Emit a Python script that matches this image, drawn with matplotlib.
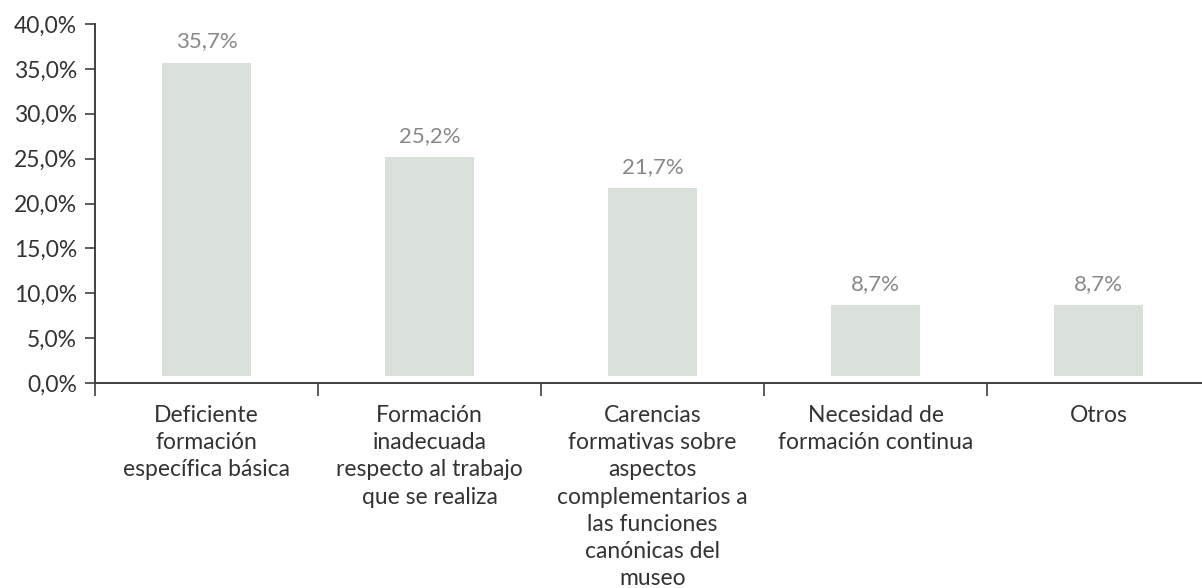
import matplotlib
matplotlib.use("Agg")
import matplotlib.pyplot as plt
from matplotlib.ticker import FixedLocator, FuncFormatter

plt.rcParams["font.family"] = ["Lato", "DejaVu Sans"]

categories = [
    "Deficiente\nformación\nespecífica básica",
    "Formación\ninadecuada\nrespecto al trabajo\nque se realiza",
    "Carencias\nformativas sobre\naspectos\ncomplementarios a\nlas funciones\ncanónicas del\nmuseo",
    "Necesidad de\nformación continua",
    "Otros",
]
values = [35.7, 25.2, 21.7, 8.7, 8.7]
y_ticks = [0, 5, 10, 15, 20, 25, 30, 35, 40]

bar_color = "#d9e0d9"
axis_color = "#404040"
text_color = "#333333"
label_color = "#888888"
base_gap = 0.8  # small white gap between bars and the axis line

fig = plt.figure(figsize=(12.02, 5.88), dpi=100)
ax = fig.add_axes([95 / 1202, 1 - 383 / 588, (1210 - 95) / 1202, (383 - 24) / 588])

x = list(range(len(values)))
ax.bar(x, [v - base_gap for v in values], bottom=base_gap, width=0.4,
       color=bar_color, edgecolor="none")

for xi, v in zip(x, values):
    ax.annotate(f"{v:.1f}".replace(".", ",") + "%", (xi, v),
                xytext=(0, 8), textcoords="offset points",
                ha="center", va="bottom", fontsize=16, color=label_color)

ax.set_xlim(-0.5, len(values) - 0.5)
ax.set_ylim(0, 40)

ax.set_yticks(y_ticks)
ax.yaxis.set_major_formatter(FuncFormatter(lambda v, p: f"{v:.1f}".replace(".", ",") + "%"))
ax.tick_params(axis="y", length=7, width=1.2, color=axis_color, pad=6,
               labelsize=16.5, labelcolor=text_color)

# boundary ticks between categories, labels at category centres
ax.xaxis.set_major_locator(FixedLocator([i - 0.5 for i in x]))
ax.xaxis.set_major_formatter(FuncFormatter(lambda v, p: ""))
ax.xaxis.set_minor_locator(FixedLocator(x))
ax.set_xticklabels(categories, minor=True, fontsize=16.5, color=text_color,
                   linespacing=1.36, va="top")
ax.tick_params(axis="x", which="major", length=9, width=1.2, color=axis_color)
ax.tick_params(axis="x", which="minor", length=0, pad=16)

for side in ("top", "right"):
    ax.spines[side].set_visible(False)
for side in ("left", "bottom"):
    ax.spines[side].set_color(axis_color)
    ax.spines[side].set_linewidth(1.4)
ax.spines["bottom"].set_zorder(5)

fig.savefig("out.png", dpi=100, facecolor="white")
